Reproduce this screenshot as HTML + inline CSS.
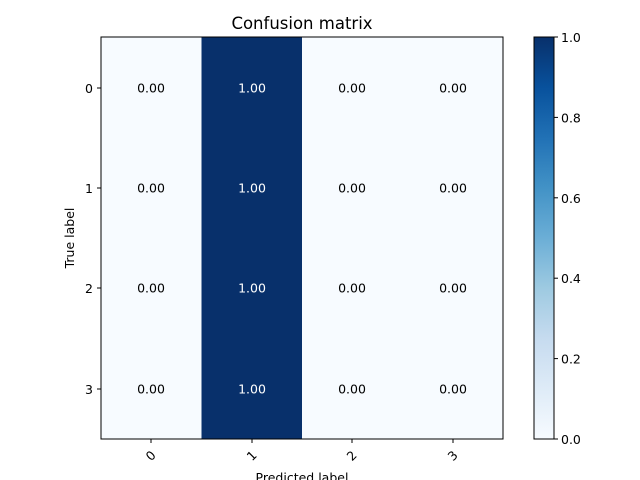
<!DOCTYPE html>
<html><head><meta charset="utf-8"><style>body{margin:0;background:#fff}svg{display:block}text{font-family:"DejaVu Sans","Liberation Sans",sans-serif}</style></head><body>
<svg width="640" height="480" viewBox="0 0 640 480" xmlns="http://www.w3.org/2000/svg">
<defs><linearGradient id="g" x1="0" y1="1" x2="0" y2="0">
<stop offset="0" stop-color="#f7fbff"/><stop offset="0.125" stop-color="#deebf7"/><stop offset="0.25" stop-color="#c6dbef"/><stop offset="0.375" stop-color="#9ecae1"/><stop offset="0.5" stop-color="#6baed6"/><stop offset="0.625" stop-color="#4292c6"/><stop offset="0.75" stop-color="#2171b5"/><stop offset="0.875" stop-color="#08519c"/><stop offset="1" stop-color="#08306b"/></linearGradient></defs>
<rect x="101" y="37" width="402" height="402" fill="#f7fbff"/>
<rect x="201.5" y="37" width="100.5" height="402" fill="#08306b"/>
<rect x="101" y="37" width="402" height="402" fill="none" stroke="#000" stroke-width="1"/>
<text x="302" y="29" font-size="16.5" text-anchor="middle">Confusion matrix</text>
<g font-size="12.5" text-anchor="middle">
<g fill="#000"><text x="151" y="88" dy="4.5">0.00</text><text x="352" y="88" dy="4.5">0.00</text><text x="453" y="88" dy="4.5">0.00</text>
<text x="151" y="188" dy="4.5">0.00</text><text x="352" y="188" dy="4.5">0.00</text><text x="453" y="188" dy="4.5">0.00</text>
<text x="151" y="288" dy="4.5">0.00</text><text x="352" y="288" dy="4.5">0.00</text><text x="453" y="288" dy="4.5">0.00</text>
<text x="151" y="389" dy="4.5">0.00</text><text x="352" y="389" dy="4.5">0.00</text><text x="453" y="389" dy="4.5">0.00</text></g>
<g fill="#fff"><text x="252" y="88" dy="4.5">1.00</text><text x="252" y="188" dy="4.5">1.00</text><text x="252" y="288" dy="4.5">1.00</text><text x="252" y="389" dy="4.5">1.00</text></g>
</g>
<g stroke="#000"><line x1="101" x2="97" y1="88" y2="88"/><line x1="101" x2="97" y1="188" y2="188"/><line x1="101" x2="97" y1="288" y2="288"/><line x1="101" x2="97" y1="389" y2="389"/>
<line x1="151" x2="151" y1="439" y2="443"/><line x1="252" x2="252" y1="439" y2="443"/><line x1="352" x2="352" y1="439" y2="443"/><line x1="453" x2="453" y1="439" y2="443"/></g>
<g font-size="12.5" text-anchor="end"><text x="93" y="93">0</text><text x="93" y="193">1</text><text x="93" y="293">2</text><text x="93" y="394">3</text></g>
<g font-size="12.5" text-anchor="middle">
<text transform="translate(151,456) rotate(-45)" dy="4">0</text><text transform="translate(252,456) rotate(-45)" dy="4">1</text><text transform="translate(352,456) rotate(-45)" dy="4">2</text><text transform="translate(453,456) rotate(-45)" dy="4">3</text></g>
<text x="302" y="482" font-size="12.5" text-anchor="middle">Predicted label</text>
<text transform="translate(74,238) rotate(-90)" font-size="12.5" text-anchor="middle">True label</text>
<rect x="534" y="37" width="20" height="402" fill="url(#g)" stroke="#000" stroke-width="1"/>
<g stroke="#000"><line x1="554" x2="558" y1="439" y2="439"/><line x1="554" x2="558" y1="358.6" y2="358.6"/><line x1="554" x2="558" y1="278.2" y2="278.2"/><line x1="554" x2="558" y1="197.8" y2="197.8"/><line x1="554" x2="558" y1="117.4" y2="117.4"/><line x1="554" x2="558" y1="37" y2="37"/></g>
<g font-size="12.5"><text x="561" y="444">0.0</text><text x="561" y="363.6">0.2</text><text x="561" y="283.2">0.4</text><text x="561" y="202.8">0.6</text><text x="561" y="122.4">0.8</text><text x="561" y="42">1.0</text></g>
</svg>
</body></html>
